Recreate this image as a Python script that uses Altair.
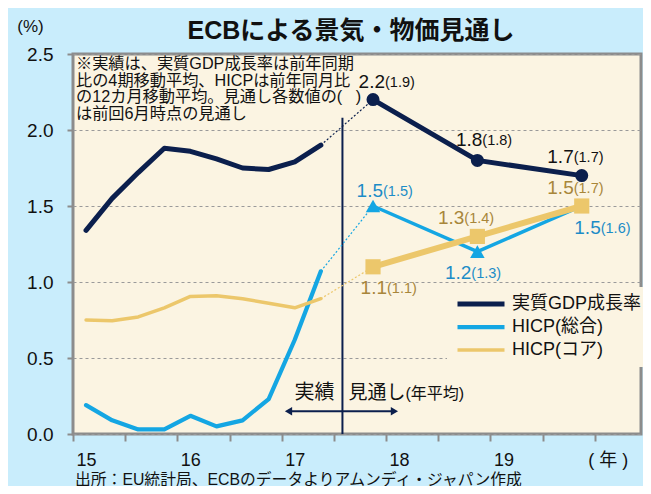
import altair as alt
import pandas as pd

# ---------------- data ----------------
QUARTERS = [2015.0, 2015.25, 2015.5, 2015.75, 2016.0, 2016.25, 2016.5, 2016.75, 2017.0, 2017.25]
GDP_ACTUAL = [1.34, 1.55, 1.72, 1.88, 1.86, 1.81, 1.75, 1.74, 1.79, 1.90]
HICP_ACTUAL = [0.19, 0.09, 0.03, 0.03, 0.12, 0.05, 0.09, 0.23, 0.62, 1.07]
CORE_ACTUAL = [0.75, 0.745, 0.77, 0.83, 0.905, 0.91, 0.89, 0.86, 0.83, 0.89]

FORECAST_YEARS = [2017.75, 2018.75, 2019.75]
GDP_FCST = [2.2, 1.8, 1.7]
HICP_FCST = [1.5, 1.2, 1.5]
CORE_FCST = [1.1, 1.3, 1.5]
GDP_PREV = [1.9, 1.8, 1.7]
HICP_PREV = [1.5, 1.3, 1.6]
CORE_PREV = [1.1, 1.4, 1.7]

SERIES = ["実質GDP成長率", "HICP(総合)", "HICP(コア)"]
Y_TICKS = [0.0, 0.5, 1.0, 1.5, 2.0, 2.5]
X_TICKS = [2014.875 + 0.25 * k for k in range(22)]
X_DOMAIN = [2014.875, 2020.318]
DIVIDER = 2017.457
DIVIDER_TOP = 2.08
ARROW = [2016.94, 2017.955]
ARROW_LEVEL = 0.15
LABEL_LEVEL = 0.27

TITLE = "ECBによる景気・物価見通し"
NOTE = ("※実績は、実質GDP成長率は前年同期\n比の4期移動平均、HICPは前年同月比\n"
        "の12カ月移動平均。見通し各数値の(\u00a0\u00a0\u00a0)\nは前回6月時点の見通し")
SOURCE = "出所：EU統計局、ECBのデータよりアムンディ・ジャパン作成"

# ---------------- styles ----------------
COLORS = ["#0B1F4D", "#14A6E3", "#ECC76B"]
TEXT_COLORS = ["#111111", "#1C8CC7", "#A8863A"]
WIDTHS = [5, 3.5, 6]
SHAPES = ["circle", "triangle-up", "square"]
SIZES = [170, 210, 230]
# (junction dx, dy) of each forecast label, per series
LABEL_LAYOUT = [
    [(12, -18), (5, -20), (-8, -19)],
    [(10, -15), (-6, 21), (19, 22)],
    [(14, 21), (-13, -18), (-8, -18)],
]
FONT = "Liberation Sans, Noto Sans CJK JP"
BG = "#C9EDFC"
PLOT_BG = "#FBF4E2"
GRAY = "#8C8C8C"
W, H = 568, 380

actuals = [GDP_ACTUAL, HICP_ACTUAL, CORE_ACTUAL]
fcsts = [GDP_FCST, HICP_FCST, CORE_FCST]
prevs = [GDP_PREV, HICP_PREV, CORE_PREV]

actual_df = pd.DataFrame(
    [{"t": t, "v": v, "series": s} for s, vals in zip(SERIES, actuals) for t, v in zip(QUARTERS, vals)]
)

XS = alt.Scale(domain=X_DOMAIN, nice=False, zero=False)
YS = alt.Scale(domain=[0, 2.5], nice=False, zero=False)

label_expr = (
    "abs((datum.value + 0.125) - round(datum.value + 0.125)) < 0.01 ? "
    "(round(datum.value + 0.125) >= 2020 ? '( 年 )' : format(round(datum.value + 0.125) - 2000, 'd')) : ''"
)
XAXIS = alt.Axis(
    values=X_TICKS, labelExpr=label_expr, labelOffset=13, tickSize=7, tickWidth=2,
    tickColor=GRAY, domain=False, grid=False, title=None, labelFontSize=18,
    labelFont=FONT, labelColor="#111111", labelPadding=10, labelOverlap=False,
    labelFlush=False, labelBound=False,
)
YAXIS = alt.Axis(
    values=Y_TICKS, format=".1f", grid=True, gridDash=[3, 3], gridColor="#9A9A9A",
    gridWidth=1, tickSize=6, tickWidth=2, tickColor=GRAY, domain=False,
    labelFontSize=19, labelFont=FONT, labelColor="#111111", labelPadding=14,
    title="(%)", titleAngle=0, titleX=-43, titleY=-28, titleAlign="center",
    titleBaseline="middle", titleFontSize=17, titleFontWeight="normal",
    titleFont=FONT, titleColor="#111111",
)


def xq():
    return alt.X("t:Q", scale=XS, axis=XAXIS)


def yq():
    return alt.Y("v:Q", scale=YS, axis=YAXIS)


one = pd.DataFrame({"a": [0]})
layers = []

# divider
layers.append(
    alt.Chart(one).mark_rule(color=COLORS[0], strokeWidth=2).encode(
        x=alt.XDatum(DIVIDER), y=alt.YDatum(0), y2=alt.Y2Datum(DIVIDER_TOP)
    )
)

# dotted connectors
for k in range(3):
    cdf = pd.DataFrame({"t": [QUARTERS[-1], FORECAST_YEARS[0]], "v": [actuals[k][-1], fcsts[k][0]]})
    layers.append(
        alt.Chart(cdf).mark_line(color=COLORS[k], strokeWidth=1.2, strokeDash=[2, 2]).encode(x=xq(), y=yq())
    )

# actual lines (carry the legend)
layers.append(
    alt.Chart(actual_df).mark_line(strokeCap="round", strokeJoin="round").encode(
        x=xq(), y=yq(),
        color=alt.Color(
            "series:N", sort=SERIES, scale=alt.Scale(domain=SERIES, range=COLORS),
            legend=alt.Legend(
                title=None, orient="none", legendX=374, legendY=233, symbolType="stroke",
                symbolStrokeWidth=5, symbolSize=2209, clipHeight=18, rowPadding=5,
                labelFontSize=18, labelFont=FONT, labelColor="#111111", labelOffset=5,
                fillColor=PLOT_BG, padding=8, labelLimit=300,
            ),
        ),
        strokeWidth=alt.StrokeWidth("series:N", sort=SERIES, scale=alt.Scale(domain=SERIES, range=WIDTHS), legend=None),
    )
)

# forecast lines
for k in range(3):
    fdf = pd.DataFrame({"t": FORECAST_YEARS, "v": fcsts[k]})
    layers.append(
        alt.Chart(fdf).mark_line(color=COLORS[k], strokeWidth=WIDTHS[k], strokeJoin="round").encode(x=xq(), y=yq())
    )

# markers
for k in range(3):
    fdf = pd.DataFrame({"t": FORECAST_YEARS, "v": fcsts[k]})
    layers.append(
        alt.Chart(fdf).mark_point(filled=True, opacity=1, shape=SHAPES[k], size=SIZES[k], color=COLORS[k]).encode(x=xq(), y=yq())
    )

# forecast value labels
for k in range(3):
    for i in range(3):
        jx, dy = LABEL_LAYOUT[k][i]
        ldf = pd.DataFrame({
            "t": [FORECAST_YEARS[i]], "v": [fcsts[k][i]],
            "main": [f"{fcsts[k][i]:.1f}"], "prev": [f"({prevs[k][i]:.1f})"],
        })
        layers.append(
            alt.Chart(ldf).mark_text(align="right", baseline="middle", dx=jx, dy=dy, fontSize=19,
                                     font=FONT, color=TEXT_COLORS[k]).encode(x=xq(), y=yq(), text="main:N")
        )
        layers.append(
            alt.Chart(ldf).mark_text(align="left", baseline="middle", dx=jx, dy=dy + 1, fontSize=14.5,
                                     font=FONT, color=TEXT_COLORS[k]).encode(x=xq(), y=yq(), text="prev:N")
        )

# 実績 / 見通し annotation with double arrow
layers.append(
    alt.Chart(one).mark_rule(color=COLORS[0], strokeWidth=2).encode(
        x=alt.XDatum(ARROW[0]), x2=alt.X2Datum(ARROW[1]), y=alt.YDatum(ARROW_LEVEL)
    )
)
layers.append(
    alt.Chart(one).mark_point(filled=True, opacity=1, shape="triangle-left", size=70, color=COLORS[0]).encode(
        x=alt.XDatum(ARROW[0]), y=alt.YDatum(ARROW_LEVEL)
    )
)
layers.append(
    alt.Chart(one).mark_point(filled=True, opacity=1, shape="triangle-right", size=70, color=COLORS[0]).encode(
        x=alt.XDatum(ARROW[1]), y=alt.YDatum(ARROW_LEVEL)
    )
)
layers.append(
    alt.Chart(one).mark_text(align="right", baseline="middle", dx=-8, fontSize=20, font=FONT, color="#111111").encode(
        x=alt.XDatum(DIVIDER), y=alt.YDatum(LABEL_LEVEL), text=alt.value("実績")
    )
)
layers.append(
    alt.Chart(one).mark_text(align="left", baseline="middle", dx=6, fontSize=19, font=FONT, color="#111111").encode(
        x=alt.XDatum(DIVIDER), y=alt.YDatum(LABEL_LEVEL), text=alt.value("見通し")
    )
)
layers.append(
    alt.Chart(one).mark_text(align="left", baseline="middle", dx=63, dy=1, fontSize=16, font=FONT, color="#111111").encode(
        x=alt.XDatum(DIVIDER), y=alt.YDatum(LABEL_LEVEL), text=alt.value("(年平均)")
    )
)

# note, title, source
layers.append(
    alt.Chart(one).mark_text(align="left", baseline="top", fontSize=16.2, lineHeight=16.7, lineBreak="\n",
                             font=FONT, color="#111111").encode(
        x=alt.value(3), y=alt.value(2), text=alt.value(NOTE)
    )
)
layers.append(
    alt.Chart(one).mark_text(align="center", baseline="middle", fontSize=25, fontWeight="bold",
                             font=FONT, color="#111111").encode(
        x=alt.value(278), y=alt.value(-23), text=alt.value(TITLE)
    )
)
layers.append(
    alt.Chart(one).mark_text(align="left", baseline="middle", fontSize=15.8, font=FONT, color="#111111").encode(
        x=alt.value(2), y=alt.value(425.5), text=alt.value(SOURCE)
    )
)

chart = (
    alt.layer(*layers)
    .properties(
        width=W, height=H,
        autosize=alt.AutoSizeParams(type="none"),
        padding={"left": 65, "top": 46, "right": 2, "bottom": 52},
    )
    .configure(background=BG)
    .configure_view(fill=PLOT_BG, stroke=GRAY, strokeWidth=3)
)

chart.save("out.html", embed_options={"renderer": "svg", "actions": False})
